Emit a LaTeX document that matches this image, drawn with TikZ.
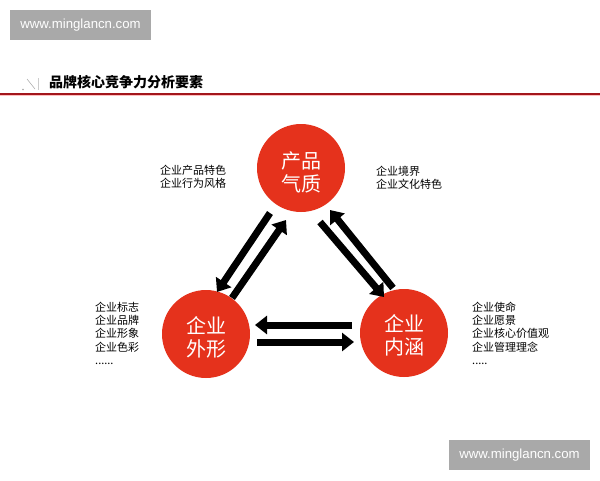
\documentclass[tikz,border=0pt]{standalone}
\usepackage{fontspec}
\setmainfont{Noto Sans CJK SC}
\newfontfamily\latfont{Liberation Sans}
\usetikzlibrary{arrows.meta,calc}
\definecolor{circred}{HTML}{E5321C}
\definecolor{linered}{HTML}{A3161C}
\definecolor{wmgray}{HTML}{A9A9A9}
\tikzset{
  bubble/.style={circle,fill=circred,minimum size=88pt,inner sep=0pt},
  bubbletext/.style={text=white,font=\fontsize{20}{23}\selectfont,align=center,inner sep=0pt},
  fatarrow/.style={line width=7pt,-{Triangle[length=12pt,width=18pt]},black},
  label/.style={font=\fontsize{11}{13.2}\selectfont,align=left,anchor=north west,inner sep=0pt},
  wmark/.style={fill=wmgray,text=white,font=\latfont\fontsize{13.2}{15}\selectfont,minimum width=141pt,minimum height=30pt,inner sep=0pt}
}
\begin{document}
\begin{tikzpicture}[x=1pt,y=-1pt]
\useasboundingbox (0,0) rectangle (600,480);
\fill[white] (0,0) rectangle (600,480);
% watermarks
\node[wmark] (wm1) at (80.5,25) {www.minglancn.com};
\node[wmark] (wm2) at (519.5,455) {www.minglancn.com};
% title
\draw[gray!60,line width=0.6pt] (27,79) -- (35,89);
\draw[gray!40,line width=0.6pt] (38,78) -- (38,90);
\fill[gray!70] (23,89.5) circle (0.8);
\node[anchor=west,inner sep=0pt,font=\fontsize{14}{16}\selectfont\bfseries] (title) at (49,82) {品牌核心竞争力分析要素};
\draw[red!25,line width=3pt] (0,94) -- (600,94);
\draw[linered,line width=1.6pt] (0,94) -- (600,94);
% circles
\node[bubble] (top) at (301,168) {};
\node[bubble] (left) at (206,334) {};
\node[bubble] (right) at (404,333) {};
\node[bubbletext] (toptext) at ($(top.center)+(0,4)$) {产品\\气质};
\node[bubbletext] (lefttext) at ($(left.center)+(0,3)$) {企业\\外形};
\node[bubbletext] (righttext) at ($(right.center)+(0,2)$) {企业\\内涵};
% arrow endpoints
\coordinate (a1s) at (270,213); \coordinate (a1e) at (217,292);
\coordinate (a2s) at (232,298); \coordinate (a2e) at (286,220);
\coordinate (b1s) at (393,288); \coordinate (b1e) at (330,210);
\coordinate (b2s) at (320,222); \coordinate (b2e) at (384,297);
\coordinate (c1s) at (352,325); \coordinate (c1e) at (255,325);
\coordinate (c2s) at (257,342); \coordinate (c2e) at (354,342);
\draw[fatarrow] (a1s) -- (a1e);
\draw[fatarrow] (a2s) -- (a2e);
\draw[fatarrow] (b1s) -- (b1e);
\draw[fatarrow] (b2s) -- (b2e);
\draw[fatarrow] (c1s) -- (c1e);
\draw[fatarrow] (c2s) -- (c2e);
% labels
\node[label] (lt) at (160,165) {企业产品特色\\企业行为风格};
\node[label] (rt) at (376,166) {企业境界\\企业文化特色};
\node[label] (ll) at (95,302) {企业标志\\企业品牌\\企业形象\\企业色彩\\......};
\node[label] (rl) at (472,302) {企业使命\\企业愿景\\企业核心价值观\\企业管理理念\\.....};
\end{tikzpicture}
\end{document}
